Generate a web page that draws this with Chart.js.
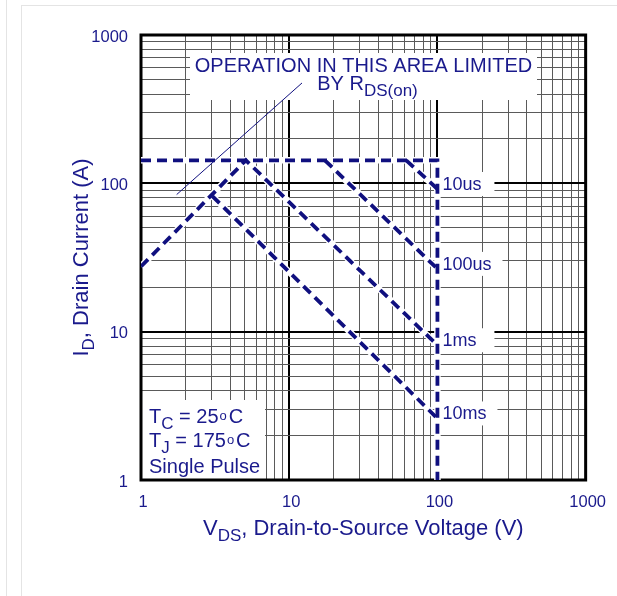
<!DOCTYPE html>
<html>
<head>
<meta charset="utf-8">
<script src="https://cdn.jsdelivr.net/npm/chart.js@4"></script>
<style>
body{margin:0;background:#fff;}
#wrap{position:relative;width:617px;height:596px;overflow:hidden;}
#edge{position:absolute;left:6px;top:0;height:596px;border-left:1px solid #e4e4e4;}
#frame{position:absolute;left:21px;top:5px;width:620px;height:620px;border:1px solid #e4e4e4;}
canvas{position:absolute;left:0;top:0;}
</style>
</head>
<body>
<div id="wrap"><div id="edge"></div><div id="frame"></div><canvas id="soa" width="617" height="596"></canvas></div>
<script>
// safe operating area
const limitV = [1, 100, 100];
const limitI = [143, 143, 1];
const rds1msV = [1, 5.1, 100];      // R_DS(on) limit, then the 1 ms line
const rds1msI = [27.5, 143, 8.1];
const ms10V = [3.03, 100];
const ms10I = [82, 2.6];
const us100V = [17.4, 100];
const us100I = [143, 26.5];
const us10V = [61.6, 100];
const us10I = [143, 91.6];
const leaderV = [1.74, 12.2];
const leaderI = [84, 475];
const pulseNames = ['10us', '100us', '1ms', '10ms'];
const pulseEndI = [91.6, 26.5, 8.1, 2.6];
const xTicks = [1, 10, 100, 1000];
const yTicks = [1, 10, 100, 1000];

const NAVY = '#10107f', TXT = '#1a1a8c';
const FONT = '"Liberation Sans", Arial, Helvetica, sans-serif';

const pts = (vs, is) => vs.map((v, k) => ({x: v, y: is[k]}));
const isDecade = v => Math.abs(Math.log10(v) - Math.round(Math.log10(v))) < 1e-9;
const gridOf = decs => { const g = []; decs.forEach(d => { for (let m = 1; m < 10; m++) if (d * m <= decs[decs.length - 1]) g.push(d * m); }); return g; };

const curves = [pts(limitV, limitI), pts(rds1msV, rds1msI), pts(ms10V, ms10I), pts(us100V, us100I), pts(us10V, us10I)];
const datasets = [];
curves.forEach(c => {
    datasets.push({data: c, showLine: true, borderColor: '#fff', borderWidth: 6.5, pointRadius: 0, order: 3, borderJoinStyle: 'miter'});
    datasets.push({data: c, showLine: true, borderColor: NAVY, borderWidth: 3.8, borderDash: [10, 6], pointRadius: 0, order: 2, borderJoinStyle: 'miter'});
});
datasets.push({data: pts(leaderV, leaderI), showLine: true, borderColor: NAVY, borderWidth: 1, pointRadius: 0, order: 1});

function rich(ctx, x, y, parts, center) {
    let w = 0;
    parts.forEach(p => { ctx.font = p[1] + 'px ' + FONT; w += ctx.measureText(p[0]).width + (p[3] || 0); });
    if (center) x -= w / 2;
    parts.forEach(p => {
        ctx.font = p[1] + 'px ' + FONT;
        ctx.fillText(p[0], x, y + (p[2] || 0));
        x += ctx.measureText(p[0]).width + (p[3] || 0);
    });
}

const notes = {
    id: 'notes',
    beforeDatasetsDraw(chart) {
        const {ctx, chartArea: a, scales: {x, y}} = chart;
        ctx.save();
        ctx.fillStyle = '#fff';
        ctx.fillRect(a.left + 49, a.top + 18, 347, 47);
        ctx.fillRect(a.left, a.bottom - 80, 124, 80);
        ctx.font = '18px ' + FONT;
        pulseNames.forEach((n, k) => {
            const px = x.getPixelForValue(100), py = y.getPixelForValue(pulseEndI[k]);
            const w = Math.max(55, ctx.measureText(n).width + 14);
            ctx.fillRect(px + 2, py - 17, w, 24);
        });
        ctx.strokeStyle = '#000';
        ctx.lineWidth = 3;
        ctx.strokeRect(a.left, a.top, a.right - a.left, a.bottom - a.top);
        ctx.restore();
    },
    afterDatasetsDraw(chart) {
        const {ctx, chartArea: a, scales: {x, y}} = chart;
        ctx.save();
        ctx.fillStyle = TXT;
        ctx.textBaseline = 'alphabetic';
        ctx.font = '18px ' + FONT;
        pulseNames.forEach((n, k) => {
            ctx.fillText(n, x.getPixelForValue(100) + 5, y.getPixelForValue(pulseEndI[k]) + 1);
        });
        const cx = a.left + 222.5;
        rich(ctx, cx, a.top + 37, [['OPERATION IN THIS AREA LIMITED', 20]], true);
        rich(ctx, cx + 4, a.top + 55, [['BY R', 20], ['DS(on)', 17, 6]], true);
        const lx = a.left + 8;
        rich(ctx, lx, a.bottom - 57, [['T', 20], ['C', 17, 6], [' = 25', 20, 0, 1], ['o', 13, -3, 2], ['C', 20]]);
        rich(ctx, lx, a.bottom - 33, [['T', 20], ['J', 17, 6], [' = 175', 20, 0, 1], ['o', 13, -3, 2], ['C', 20]]);
        rich(ctx, lx, a.bottom - 7, [['Single Pulse', 20]]);
        // axis titles
        rich(ctx, (a.left + a.right) / 2, a.bottom + 55, [['V', 22], ['DS', 17, 6], [', Drain-to-Source Voltage (V)', 22]], true);
        ctx.translate(a.left - 53, (a.top + a.bottom) / 2);
        ctx.rotate(-Math.PI / 2);
        rich(ctx, 0, 0, [['I', 22], ['D', 17, 6], [', Drain Current (A)', 22]], true);
        ctx.restore();
    }
};

function logAxis(decs, extra) {
    return Object.assign({
        type: 'logarithmic', min: decs[0], max: decs[decs.length - 1],
        afterBuildTicks: s => { s.ticks = gridOf(decs).map(v => ({value: v})); },
        ticks: {autoSkip: false, maxRotation: 0, color: TXT, font: {family: FONT, size: 16.5}, padding: 13, labelOffset: 2,
            callback: v => decs.includes(v) ? String(v) : ''},
        grid: {drawTicks: false, color: c => isDecade(c.tick.value) ? '#000' : '#5a5a5a',
            lineWidth: c => isDecade(c.tick.value) ? 2 : 1},
        border: {display: false}
    }, extra);
}

new Chart(document.getElementById('soa'), {
    type: 'scatter',
    data: {datasets},
    options: {
        responsive: false, animation: false,
        layout: {padding: {left: 0, top: 35, right: 31, bottom: 0}},
        plugins: {legend: {display: false}, tooltip: {enabled: false}},
        elements: {line: {tension: 0}},
        scales: {
            x: logAxis(xTicks, {afterFit: s => { s.height = 116; }}),
            y: logAxis(yTicks, {afterFit: s => { s.width = 141; }})
        }
    },
    plugins: [notes]
});
</script>
</body>
</html>
